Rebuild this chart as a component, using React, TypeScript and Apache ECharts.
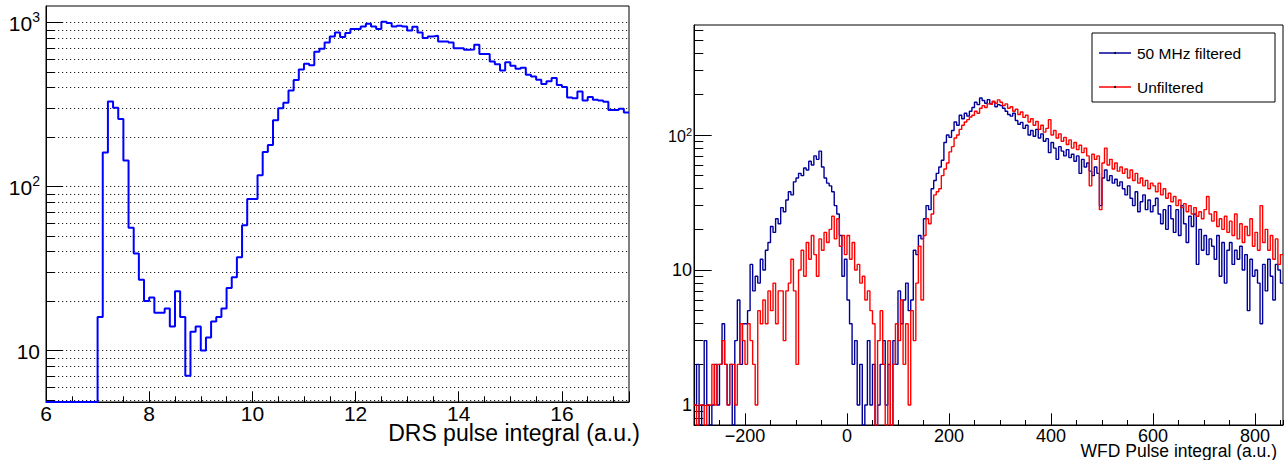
import React, { useEffect, useRef } from "react";
import * as echarts from "echarts";

const FONT = '"Liberation Sans", Arial, Helvetica, sans-serif';

// ---------- Left panel: DRS pulse integral (bins of 0.1 starting at 6.0)
const drsBinStart = 6.0;
const drsBinWidth = 0.1;
const drsCounts = [
  0, 0, 0, 0, 0, 0, 0, 0, 0, 0,
  16, 161, 330, 302, 258, 144, 56, 39, 27, 20,
  21, 17, 17, 18, 14, 23, 16, 7, 13, 14,
  10, 12, 15, 16, 18, 24, 28, 37, 58, 84,
  84, 117, 162, 179, 253, 300, 324, 385, 446, 517,
  560, 549, 663, 691, 755, 822, 869, 814, 861, 911,
  911, 945, 982, 945, 911, 1010, 992, 945, 955, 945,
  894, 940, 869, 803, 822, 830, 766, 766, 755, 697,
  697, 681, 685, 731, 642, 642, 578, 557, 509, 571,
  544, 522, 530, 480, 469, 448, 421, 438, 458, 415,
  404, 349, 345, 379, 334, 351, 338, 334, 328, 293,
  293, 298, 282,
];

// ---------- Right panel: WFD pulse integral (bins of 5 starting at -300)
const wfdBinStart = -300;
const wfdBinWidth = 5;
const wfdFiltered = [
  1, 2, 0, 1, 3, 1, 0, 1, 2, 1,
  2, 4, 2, 1, 2, 0, 3, 6, 2, 4,
  4, 5, 11, 7, 9, 8, 12, 10, 14, 16,
  21, 19, 24, 22, 29, 27, 33, 38, 36, 45,
  48, 52, 50, 57, 55, 64, 60, 70, 66, 76,
  58, 48, 44, 42, 38, 30, 26, 18, 9, 12,
  6, 4, 2, 3, 1, 2, 0, 1, 3, 1,
  2, 0, 1, 2, 3, 1, 2, 0, 3, 2,
  7, 4, 6, 8, 5, 6, 14, 13, 18, 17,
  24, 30, 28, 40, 46, 52, 58, 65, 88, 100,
  96, 108, 125, 118, 140, 132, 145, 138, 150, 160,
  175, 168, 188, 180, 172, 183, 170, 176, 162, 168,
  165, 158, 150, 142, 138, 145, 128, 120, 124, 112,
  118, 100, 108, 98, 110, 95, 102, 90, 94, 74,
  88, 80, 66, 82, 76, 70, 78, 68, 72, 64,
  70, 52, 66, 58, 62, 54, 50, 58, 52, 30,
  48, 55, 46, 50, 44, 47, 42, 45, 40, 36,
  42, 34, 30, 38, 27, 32, 36, 28, 33, 27,
  30, 34, 26, 22, 28, 20, 30, 24, 19, 28,
  18, 30, 22, 16, 25, 21, 26, 11, 20, 14,
  18, 13, 17, 15, 12, 18, 9, 16, 8, 14,
  16, 11, 14, 12, 15, 10, 13, 5, 12, 9,
  10, 8, 4, 11, 7, 12, 9, 6, 11, 10, 8,
];
const wfdUnfiltered = [
  1, 0, 1, 1, 0, 1, 1, 2, 1, 2,
  2, 3, 2, 1, 2, 2, 1, 2, 4, 3,
  2, 4, 3, 2, 1, 5, 4, 6, 4, 7,
  5, 8, 4, 7, 7, 3, 7, 8, 12, 7,
  2, 10, 14, 9, 16, 12, 18, 13, 9, 17,
  14, 19, 16, 20, 25, 17, 24, 15, 18, 13,
  18, 12, 16, 10, 11, 8, 9, 6, 7, 5,
  4, 0, 3, 5, 2, 0, 3, 0, 2, 4,
  3, 6, 2, 4, 1, 5, 3, 8, 15, 6,
  18, 24, 22, 26, 36, 38, 40, 50, 56, 62,
  75, 82, 95, 100, 110, 118, 125, 130, 136, 140,
  150, 145, 158, 165, 160, 170, 168, 178, 172, 182,
  175, 165, 170, 158, 162, 150, 155, 142, 148, 135,
  140, 125, 132, 118, 126, 110, 118, 105, 112, 130,
  100, 108, 95, 102, 90, 96, 85, 92, 80, 88,
  78, 84, 74, 80, 70, 42, 72, 66, 70, 28,
  62, 80, 60, 66, 56, 62, 54, 58, 52, 56,
  48, 55, 46, 52, 44, 48, 42, 46, 40, 44,
  42, 38, 44, 36, 40, 34, 37, 32, 35, 30,
  33, 29, 31, 27, 30, 26, 29, 25, 27, 24,
  28, 35, 26, 23, 27, 21, 24, 20, 25, 19,
  23, 18, 26, 17, 22, 16, 21, 18, 24, 15,
  19, 14, 30, 16, 20, 14, 18, 12, 17, 11, 13,
];

// ---------- Tick values / labels
const drsMajorTicks = [10, 100, 1000];
const drsGridTicks = [5, 6, 7, 8, 9, 10, 20, 30, 40, 50, 60, 70, 80, 90, 100, 200, 300, 400, 500, 600, 700, 800, 900, 1000];
const wfdMajorTicksY = [1, 10, 100];
const wfdMinorTicksY = [0.8, 0.9, 2, 3, 4, 5, 6, 7, 8, 9, 20, 30, 40, 50, 60, 70, 80, 90, 200, 300, 400, 500, 600];
const wfdLabelTicksX = [-200, 0, 200, 400, 600, 800];
const legendNames = ["50 MHz filtered", "Unfiltered"];
const drsTitle = "DRS pulse integral (a.u.)";
const wfdTitle = "WFD Pulse integral (a.u.)";

const DRS_YMIN = 4.85;
const DRS_YMAX = 1260;
const WFD_YMIN = 0.711;
const WFD_YMAX = 653;

function toSteps(start: number, width: number, counts: number[], floor: number) {
  const pts: number[][] = counts.map((c, i) => [Number((start + i * width).toFixed(6)), c > 0 ? c : floor]);
  const last = counts[counts.length - 1];
  pts.push([Number((start + counts.length * width).toFixed(6)), last > 0 ? last : floor]);
  return pts;
}

function logLabel(v: number) {
  const e = Math.round(Math.log10(v));
  if (e <= 1) return `{b|${Math.round(v)}}`;
  return `{b|10}{s|${e}}`;
}
function logLabelR(v: number) {
  const e = Math.round(Math.log10(v));
  if (e <= 1) return `{b|${Math.round(v)}}`;
  return `{c|10}{s|${e}}`;
}

const black = "#000";

function buildOption(): any {
  return {
    animation: false,
    backgroundColor: "#fff",
    grid: [
      { left: 46, top: 6, width: 583, height: 396, show: true, borderColor: black, borderWidth: 1, backgroundColor: "transparent", containLabel: false, outerBoundsMode: "none" },
      { left: 694, top: 25, width: 589, height: 400, show: true, borderColor: black, borderWidth: 1, backgroundColor: "transparent", containLabel: false, outerBoundsMode: "none" },
    ],
    xAxis: [
      {
        gridIndex: 0, type: "value", min: 6, max: 17.3, interval: 2,
        axisLine: { show: true, onZero: false, lineStyle: { color: black, width: 1 } },
        axisTick: { show: true, inside: true, length: 10.7, lineStyle: { color: black, width: 1 } },
        minorTick: { show: true, splitNumber: 4, length: 5.7, lineStyle: { color: black, width: 1 } },
        axisLabel: { fontSize: 21, lineHeight: 15, color: black, fontFamily: FONT, margin: 4, showMaxLabel: false },
        splitLine: { show: false },
      },
      {
        gridIndex: 1, type: "value", min: -300, max: 855, interval: 50,
        axisLine: { show: true, onZero: false, lineStyle: { color: black, width: 1 } },
        axisTick: { show: true, inside: true, length: 5, lineStyle: { color: black, width: 1 } },
        axisLabel: { show: false },
        splitLine: { show: false },
      },
      {
        gridIndex: 1, type: "value", min: -300, max: 855, position: "bottom",
        axisLine: { show: false, onZero: false },
        axisTick: { show: true, inside: true, length: 11.7, customValues: wfdLabelTicksX, lineStyle: { color: black, width: 1 } },
        axisLabel: {
          customValues: wfdLabelTicksX, fontSize: 18, lineHeight: 13, color: black, fontFamily: FONT, margin: 4.5,
          formatter: (v: number) => (v < 0 ? "\u2212" + Math.abs(v) : String(v)),
        },
        splitLine: { show: false },
      },
    ],
    yAxis: [
      {
        gridIndex: 0, type: "log", logBase: 10, min: DRS_YMIN, max: DRS_YMAX, position: "left",
        axisLine: { show: true, onZero: false, lineStyle: { color: black, width: 1 } },
        axisTick: { show: true, inside: true, length: 8.7, customValues: drsGridTicks, lineStyle: { color: black, width: 1 } },
        axisLabel: { show: false },
        splitLine: { show: true, lineStyle: { color: "#222", width: 1, type: [1.2, 2.8] } },
      },
      {
        gridIndex: 0, type: "log", logBase: 10, min: DRS_YMIN, max: DRS_YMAX, position: "left",
        axisLine: { show: false, onZero: false },
        axisTick: { show: true, inside: true, length: 17, customValues: drsMajorTicks, lineStyle: { color: black, width: 1 } },
        axisLabel: {
          customValues: drsMajorTicks, margin: 6, formatter: logLabel,
          rich: {
            b: { fontSize: 21, fontFamily: FONT, color: black, lineHeight: 24, verticalAlign: "bottom" },
            s: { fontSize: 14, fontFamily: FONT, color: black, lineHeight: 14, verticalAlign: "top" },
          },
        },
        splitLine: { show: false },
      },
      {
        gridIndex: 1, type: "log", logBase: 10, min: WFD_YMIN, max: WFD_YMAX, position: "left",
        axisLine: { show: true, onZero: false, lineStyle: { color: black, width: 1 } },
        axisTick: { show: true, inside: true, length: 9.3, customValues: wfdMinorTicksY, lineStyle: { color: black, width: 1 } },
        axisLabel: { show: false },
        splitLine: { show: false },
      },
      {
        gridIndex: 1, type: "log", logBase: 10, min: WFD_YMIN, max: WFD_YMAX, position: "left",
        axisLine: { show: false, onZero: false },
        axisTick: { show: true, inside: true, length: 17.7, customValues: wfdMajorTicksY, lineStyle: { color: black, width: 1 } },
        axisLabel: {
          customValues: wfdMajorTicksY, margin: 2, formatter: logLabelR,
          rich: {
            b: { fontSize: 18, fontFamily: FONT, color: black },
            c: { fontSize: 16, fontFamily: FONT, color: black, lineHeight: 18, verticalAlign: "bottom" },
            s: { fontSize: 11, fontFamily: FONT, color: black, lineHeight: 11, verticalAlign: "top" },
          },
        },
        splitLine: { show: false },
      },
    ],
    series: [
      {
        type: "line", name: "DRS", xAxisIndex: 0, yAxisIndex: 0, step: "end",
        data: toSteps(drsBinStart, drsBinWidth, drsCounts, DRS_YMIN),
        symbol: "none", showSymbol: false, silent: true, clip: true,
        lineStyle: { color: "#0000ff", width: 2 }, z: 5,
      },
      {
        type: "line", name: legendNames[0], xAxisIndex: 1, yAxisIndex: 2, step: "end",
        data: toSteps(wfdBinStart, wfdBinWidth, wfdFiltered, WFD_YMIN),
        symbol: "none", showSymbol: false, silent: true, clip: true,
        lineStyle: { color: "#000099", width: 1.4 }, z: 5,
      },
      {
        type: "line", name: legendNames[1], xAxisIndex: 1, yAxisIndex: 2, step: "end",
        data: toSteps(wfdBinStart, wfdBinWidth, wfdUnfiltered, WFD_YMIN),
        symbol: "none", showSymbol: false, silent: true, clip: true,
        lineStyle: { color: "#ff0000", width: 1.4 }, z: 6,
      },
    ],
    graphic: [
      { type: "text", x: 640, y: 433, z: 10, style: { text: drsTitle, align: "right", verticalAlign: "middle", fontSize: 23, lineHeight: 17, fontFamily: FONT, fill: black } },
      { type: "text", x: 1277, y: 451, z: 10, style: { text: wfdTitle, align: "right", verticalAlign: "middle", fontSize: 17.5, lineHeight: 13, fontFamily: FONT, fill: black } },
      { type: "rect", z: 10, shape: { x: 1092, y: 33, width: 183, height: 69 }, style: { fill: "#fff", stroke: black, lineWidth: 1 } },
      { type: "line", z: 11, shape: { x1: 1099, y1: 53, x2: 1131, y2: 53 }, style: { stroke: "#000099", lineWidth: 1.5 } },
      { type: "circle", z: 12, shape: { cx: 1115, cy: 53, r: 1 }, style: { fill: black } },
      { type: "text", x: 1137, y: 53, z: 11, style: { text: legendNames[0], align: "left", verticalAlign: "middle", fontSize: 15.5, fontFamily: FONT, fill: black } },
      { type: "line", z: 11, shape: { x1: 1099, y1: 87, x2: 1131, y2: 87 }, style: { stroke: "#ff0000", lineWidth: 1.5 } },
      { type: "circle", z: 12, shape: { cx: 1115, cy: 87, r: 1 }, style: { fill: black } },
      { type: "text", x: 1137, y: 87, z: 11, style: { text: legendNames[1], align: "left", verticalAlign: "middle", fontSize: 15.5, fontFamily: FONT, fill: black } },
    ],
  };
}

export default function App() {
  const ref = useRef<HTMLDivElement>(null);
  useEffect(() => {
    if (!ref.current) return;
    const chart = echarts.init(ref.current, null, { renderer: "svg" });
    chart.setOption(buildOption());
    return () => chart.dispose();
  }, []);
  return (
    <div
      ref={ref}
      style={{ position: "fixed", left: 0, top: 0, width: 1285, height: 460, background: "#fff" }}
    />
  );
}
